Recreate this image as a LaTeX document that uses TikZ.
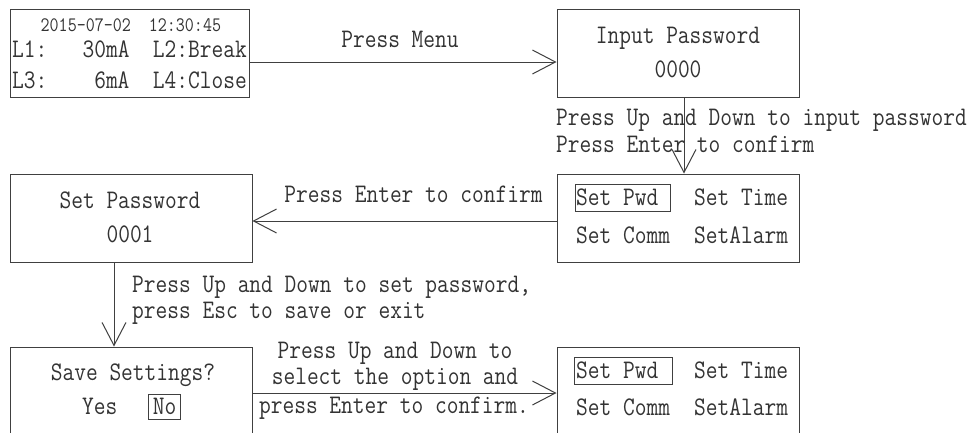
\documentclass[tikz,border=0pt]{standalone}
\usepackage{fontspec}
\newfontfamily\lcdfont[FakeStretch=0.85]{Latin Modern Mono}
\usetikzlibrary{arrows.meta}
\definecolor{ink}{HTML}{333333}
\definecolor{linec}{HTML}{404040}
\begin{document}
\begin{tikzpicture}[x=1pt,y=-1pt,
  box/.style={draw=linec, line width=1pt, inner sep=0pt, minimum width=242pt, minimum height=88pt},
  sel/.style={draw=linec, line width=0.9pt, inner sep=0pt},
  txt/.style={text=ink, inner sep=0pt, font=\lcdfont\fontsize{26.8}{28}\selectfont},
  small/.style={text=ink, inner sep=0pt, font=\lcdfont\fontsize{20.6}{22}\selectfont},
  arr/.style={draw=linec, line width=1pt, -{Straight Barb[length=23pt, width=24pt, line width=1pt]}}]
\useasboundingbox (0,0) rectangle (972,432);
\clip (0,0) rectangle (972,432);
\fill[white] (0,0) rectangle (972,432);

% boxes
\node[box, minimum width=239pt] (scr) at (129.5,53) {};
\node[box] (inp) at (678,53) {};
\node[box] (setpw) at (131,218) {};
\node[box] (menu1) at (678,218) {};
\node[box, minimum height=100pt] (save) at (131,397) {};
\node[box, minimum height=100pt] (menu2) at (678,397) {};

% screen text
\node[small, anchor=base west] (date) at (40.5,31) {2015-07-02~~12:30:45};
\node[txt, anchor=base west] (l1) at (12,57) {L1:~~~30mA~~L2:Break};
\node[txt, anchor=base west] (l3) at (12,88) {L3:~~~~6mA~~L4:Close};

\node[txt, anchor=base] (inpt) at (678,43) {Input Password};
\node[txt, anchor=base] (inpv) at (678,77) {0000};

\node[txt, anchor=base] (setpt) at (130,208) {Set Password};
\node[txt, anchor=base] (setpv) at (130,242) {0001};

% menu 1
\node[sel, minimum width=95pt, minimum height=27pt] (pwd1) at (622.5,197.5) {};
\node[txt, anchor=base west] (m1a) at (576,205) {Set~Pwd};
\node[txt, anchor=base west] (m1b) at (694,205) {Set~Time};
\node[txt, anchor=base west] (m1c) at (576,243) {Set~Comm};
\node[txt, anchor=base west] (m1d) at (694,243) {SetAlarm};

% menu 2
\node[sel, minimum width=98pt, minimum height=27pt] (pwd2) at (623,370.5) {};
\node[txt, anchor=base west] (m2a) at (576,378) {Set~Pwd};
\node[txt, anchor=base west] (m2b) at (694,378) {Set~Time};
\node[txt, anchor=base west] (m2c) at (576,415) {Set~Comm};
\node[txt, anchor=base west] (m2d) at (694,415) {SetAlarm};

% save
\node[txt, anchor=base] (savet) at (133,380) {Save Settings?};
\node[txt, anchor=base west] (yes) at (82,414) {Yes};
\node[sel, minimum width=32pt, minimum height=25pt] (nobox) at (164,406.5) {};
\node[txt, anchor=base] (no) at (164.5,414) {No};

% connectors
\coordinate (a1) at (0,62);
\coordinate (a2) at (684,0);
\coordinate (a3) at (0,221);
\coordinate (a4) at (114,0);
\coordinate (a5) at (0,393);
\draw[arr] (scr.east |- a1) -- (inp.west |- a1);
\draw[arr] (inp.south -| a2) -- (menu1.north -| a2);
\draw[arr] (menu1.west |- a3) -- (setpw.east |- a3);
\draw[arr] (setpw.south -| a4) -- (save.north -| a4);
\draw[arr] (save.east |- a5) -- (menu2.west |- a5);

% labels
\node[txt, anchor=base] (lb1) at (400,47) {Press Menu};
\node[txt, anchor=base west] (lb2a) at (556,125) {Press Up and Down to input password};
\node[txt, anchor=base west] (lb2b) at (556,152) {Press Enter to confirm};
\node[txt, anchor=base] (lb3) at (413.5,202) {Press Enter to confirm};
\node[txt, anchor=base west] (lb4a) at (132,292) {Press Up and Down to set password,};
\node[txt, anchor=base west] (lb4b) at (132,318) {press Esc to save or exit};
\node[txt, anchor=base] (lb5a) at (395,358) {Press Up and Down to};
\node[txt, anchor=base] (lb5b) at (395,384) {select the option and};
\node[txt, anchor=base] (lb5c) at (394,413) {press Enter to confirm.};
\end{tikzpicture}
\end{document}
